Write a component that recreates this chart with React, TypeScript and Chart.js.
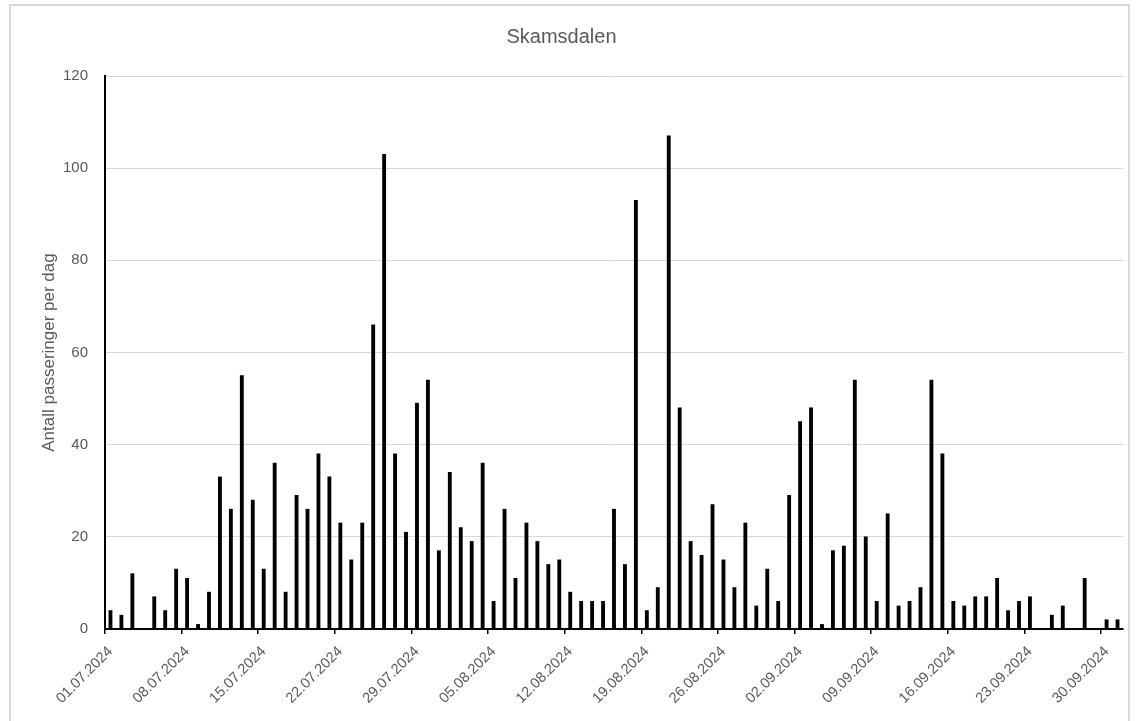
import React, { useEffect, useRef } from 'react';
import { Chart, registerables } from 'chart.js';

Chart.register(...registerables);

const chartTitle = 'Skamsdalen';
const yAxisTitle = 'Antall passeringer per dag';
const year = '2024';

// Daily counts per month (01 .. last day)
const julyCounts = [4, 3, 12, 0, 7, 4, 13, 11, 1, 8, 33, 26, 55, 28, 13, 36, 8, 29, 26, 38, 33, 23, 15, 23, 66, 103, 38, 21, 49, 54, 17];
const augustCounts = [34, 22, 19, 36, 6, 26, 11, 23, 19, 14, 15, 8, 6, 6, 6, 26, 14, 93, 4, 9, 107, 48, 19, 16, 27, 15, 9, 23, 5, 13, 6];
const septemberCounts = [29, 45, 48, 1, 17, 18, 54, 20, 6, 25, 5, 6, 9, 54, 38, 6, 5, 7, 7, 11, 4, 6, 7, 0, 3, 5, 0, 11, 0, 2];
const octoberCounts = [2];

const monthNumbers = ['07', '08', '09', '10'];
const monthSeries = [julyCounts, augustCounts, septemberCounts, octoberCounts];

const yTicks = [0, 20, 40, 60, 80, 100, 120];
const labelEvery = 7;

const pad2 = (n: number) => (n < 10 ? '0' + n : String(n));
const dateLabels: string[] = [];
const counts: number[] = [];
monthSeries.forEach((series, mi) => {
  series.forEach((v, di) => {
    dateLabels.push(`${pad2(di + 1)}.${monthNumbers[mi]}.${year}`);
    counts.push(v);
  });
});

const textColor = '#595959';
const gridColor = '#d9d9d9';
const fontFamily = '"Liberation Sans", Arial, sans-serif';

export default function App() {
  const canvasRef = useRef<HTMLCanvasElement | null>(null);

  useEffect(() => {
    const canvas = canvasRef.current;
    if (!canvas) return;
    const chart = new Chart(canvas, {
      type: 'bar',
      data: {
        labels: dateLabels,
        datasets: [
          {
            data: counts,
            backgroundColor: '#000000',
            borderWidth: 0,
            barThickness: 3.2,
          },
        ],
      },
      options: {
        responsive: false,
        animation: false,
        devicePixelRatio: 1,
        layout: { padding: { left: 0, right: 17, top: 0, bottom: 0 } },
        plugins: {
          legend: { display: false },
          tooltip: { enabled: false },
          title: {
            display: true,
            text: chartTitle,
            color: textColor,
            font: { family: fontFamily, size: 20, weight: 'normal', lineHeight: 1.2 },
            padding: { top: 25, bottom: 27 },
          },
        },
        scales: {
          x: {
            type: 'category',
            offset: true,
            border: { display: true, color: '#000000', width: 2 },
            grid: {
              display: true,
              offset: true,
              drawOnChartArea: false,
              drawTicks: true,
              tickLength: 5,
              lineWidth: 1.5,
              color: (ctx: any) => (ctx.index % labelEvery === 0 && ctx.index < dateLabels.length ? '#000000' : 'rgba(0,0,0,0)'),
              tickColor: (ctx: any) => (ctx.index % labelEvery === 0 && ctx.index < dateLabels.length ? '#000000' : 'rgba(0,0,0,0)'),
            },
            ticks: {
              autoSkip: false,
              minRotation: 45,
              maxRotation: 45,
              padding: 9,
              color: textColor,
              font: { family: fontFamily, size: 14.6 },
              callback: (_v: any, i: number) => (i % labelEvery === 0 ? dateLabels[i] : ''),
            },
            afterFit: (scale: any) => {
              scale.height = 92;
            },
          },
          y: {
            min: yTicks[0],
            max: yTicks[yTicks.length - 1],
            border: { display: true, color: '#000000', width: 2 },
            grid: {
              color: gridColor,
              lineWidth: 1,
              drawTicks: false,
            },
            ticks: {
              stepSize: yTicks[1] - yTicks[0],
              padding: 17,
              color: textColor,
              font: { family: fontFamily, size: 15 },
            },
            title: {
              display: true,
              text: yAxisTitle,
              color: textColor,
              font: { family: fontFamily, size: 17, weight: 'normal', lineHeight: 1.2 },
              padding: { top: 39, bottom: 0 },
            },
            afterFit: (scale: any) => {
              scale.width = 105;
            },
          },
        },
      },
    } as any);
    return () => chart.destroy();
  }, []);

  return (
    <div style={{ position: 'fixed', left: 0, top: 0, width: 1140, height: 721, background: '#ffffff', overflow: 'hidden' }}>
      <div
        style={{
          position: 'absolute',
          left: 9,
          top: 4,
          width: 1121,
          height: 740,
          border: '2px solid #d9d9d9',
          boxSizing: 'border-box',
        }}
      />
      <canvas ref={canvasRef} width={1140} height={721} style={{ position: 'absolute', left: 0, top: 0, width: 1140, height: 721 }} />
    </div>
  );
}
